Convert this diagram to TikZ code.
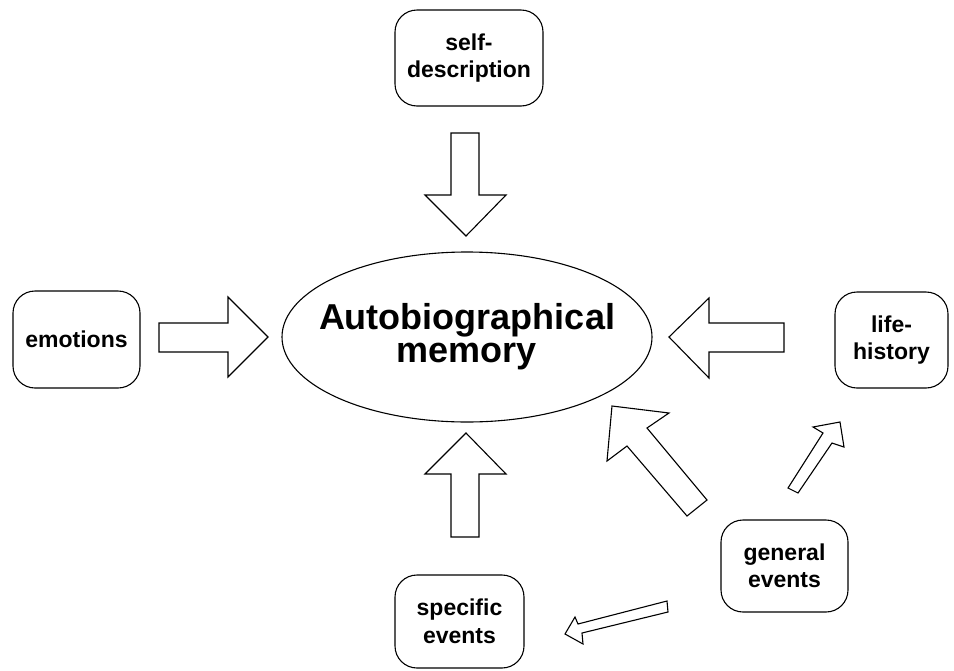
\documentclass[tikz,border=0pt]{standalone}
\usepackage{fontspec}
\setmainfont{Liberation Sans}
\usetikzlibrary{shapes.geometric}
\begin{document}
\begin{tikzpicture}[x=1pt,y=-1pt,
  boxnode/.style={draw=black, line width=1.1pt, rounded corners=22pt, align=center,
    font=\fontsize{23}{27.5}\selectfont\bfseries, inner sep=0pt},
  blockarrow/.style={draw=black, line width=1.1pt, fill=white, line join=miter}]
\useasboundingbox[fill=white] (0,0) rectangle (954,670);
% nodes
\node[boxnode, minimum width=148pt, minimum height=96pt] (sd) at (469,58) {self-\\description};
\node[boxnode, minimum width=127pt, minimum height=97pt] (em) at (76.5,339.5) {emotions};
\node[boxnode, minimum width=113pt, minimum height=96pt] (lh) at (891.5,340) {life-\\history};
\node[boxnode, minimum width=129pt, minimum height=93pt] (se) at (459.5,621.5) {specific\\events};
\node[boxnode, minimum width=127pt, minimum height=92pt] (ge) at (784.5,566) {general\\events};
\node[draw=black, line width=1.1pt, ellipse, minimum width=370pt, minimum height=170pt,
  inner sep=0pt] (am) at (467,337) {};
\node[align=center, inner sep=0pt, font=\fontsize{36}{33}\selectfont\bfseries] (amtext) at (am.center)
  {Autobiographical\\memory};
% block arrows
% self-description -> memory (down)
\draw[blockarrow] (451,133) -- (479,133) -- (479,195) -- (506,195) -- (466,236) -- (425,195) -- (451,195) -- cycle;
% specific events -> memory (up)
\draw[blockarrow] (451,537) -- (479,537) -- (479,474) -- (506,474) -- (466,433) -- (425,474) -- (451,474) -- cycle;
% emotions -> memory (right)
\draw[blockarrow] (159,323) -- (228,323) -- (228,297) -- (268,337) -- (228,377) -- (228,352) -- (159,352) -- cycle;
% life-history -> memory (left)
\draw[blockarrow] (784,323) -- (709,323) -- (709,298) -- (669,337) -- (709,378) -- (709,352) -- (784,352) -- cycle;
% general events -> memory (diagonal)
\draw[blockarrow] (612,406) -- (669,413) -- (647,428) -- (707,500) -- (687,516) -- (627,446) -- (607,461) -- cycle;
% general events -> life-history (small diagonal)
\draw[blockarrow] (840,422) -- (844,447) -- (832,443) -- (798,493) -- (788,488) -- (823,433) -- (813,427) -- cycle;
% general events -> specific events (small)
\draw[blockarrow] (565,634) -- (575,617) -- (578,624) -- (667,601) -- (668,612) -- (582,633) -- (583,644) -- cycle;
\end{tikzpicture}
\end{document}
